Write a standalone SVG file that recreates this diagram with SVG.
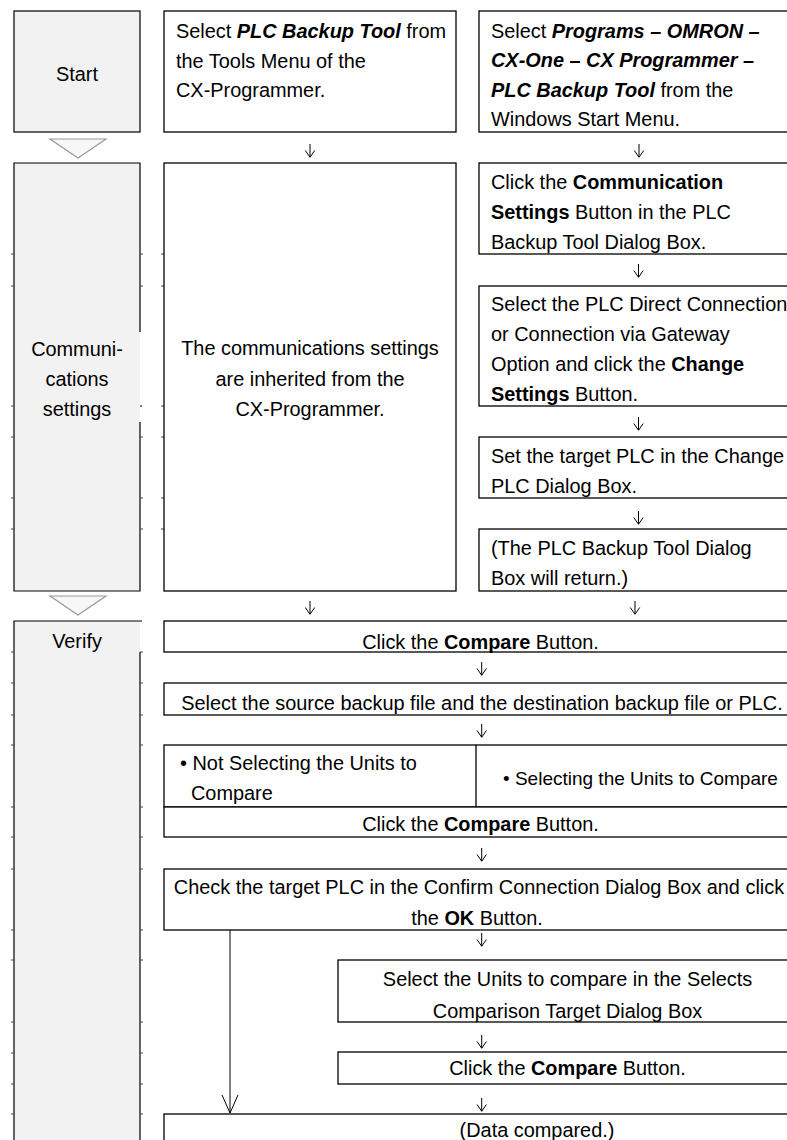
<svg xmlns="http://www.w3.org/2000/svg" width="787" height="1140" viewBox="0 0 787 1140">
<defs>
<style>
text{font-family:"Liberation Sans",Arial,sans-serif;font-size:19.9px;fill:#000}
.c{text-anchor:middle}
.b{font-weight:bold}
.bi{font-weight:bold;font-style:italic}
.sm{font-size:19px}
.lblfill{fill:#f2f2f2;stroke:none}
.lbl{fill:#f2f2f2;stroke:#000;stroke-width:1.2}
.edge{fill:none;stroke:#000;stroke-width:1.2}
.box{fill:#fff;stroke:#000;stroke-width:1.3}
.tri{fill:#f7f7f7;stroke:#9a9a9a;stroke-width:1.2}
.arr{fill:none;stroke:#000;stroke-width:1}
.tick{fill:none;stroke:#444;stroke-width:1}
</style>
</defs>
<rect width="787" height="1140" fill="#fff"/>

<g id="label-start">
<rect class="lbl" x="14" y="11" width="126" height="121"/>
<text class="c" x="77" y="81">Start</text>
</g>
<polygon id="phase-arrow-1" class="tri" points="50,139 106,139 78,158"/>
<g id="label-comm">
<rect class="lblfill" x="14" y="163" width="126" height="428"/>
<path class="edge" d="M140,332 V163 H14 V591 H140 V422 M140,406 h2"/>
<text class="c" x="77" y="356">Communi-</text>
<text class="c" x="77" y="386">cations</text>
<text class="c" x="77" y="416">settings</text>
</g>
<polygon id="phase-arrow-2" class="tri" points="50,596 106,596 78,615"/>
<g id="label-verify">
<rect class="lblfill" x="14" y="621" width="126" height="530"/>
<path class="edge" d="M140,652 V1150 M142,621 H14 V1150"/>
<text class="c" x="77" y="648">Verify</text>
</g>

<g id="ticks">
<path class="tick" d="M11,254h3M140,254h3M161,254h3 M11,286h3M140,286h3M161,286h3 M11,406h3M161,406h3 M11,437h3M140,437h3M161,437h3 M11,498h3M140,498h3M161,498h3 M11,529h3M140,529h3M161,529h3 M11,652h3M140,652h3 M11,683h3M140,683h3 M11,715h3M140,715h3 M11,745h3M140,745h3 M11,807h3M140,807h3 M11,837h3M140,837h3 M11,869h3M140,869h3 M11,930h3M140,930h3 M11,960h3M140,960h3 M11,1022h3M140,1022h3 M11,1053h3M140,1053h3 M11,1084h3M140,1084h3 M11,1114h3M140,1114h3"/>
</g>

<g id="node-cx-menu">
<rect class="box" x="164" y="11" width="292" height="121"/>
<text x="176" y="38">Select <tspan class="bi">PLC Backup Tool</tspan> from</text>
<text x="176" y="67.5">the Tools Menu of the</text>
<text x="176" y="97">CX-Programmer.</text>
</g>
<g id="node-start-menu">
<rect class="box" x="479" y="11" width="330" height="121"/>
<text x="491" y="37.5">Select <tspan class="bi">Programs – OMRON –</tspan></text>
<text x="491" y="67" class="bi">CX-One – CX Programmer –</text>
<text x="491" y="96.5"><tspan class="bi">PLC Backup Tool</tspan> from the</text>
<text x="491" y="126">Windows Start Menu.</text>
</g>
<g id="node-inherited">
<rect class="box" x="164" y="163" width="292" height="428"/>
<text class="c" x="310" y="355">The communications settings</text>
<text class="c" x="310" y="385.5">are inherited from the</text>
<text class="c" x="310" y="416">CX-Programmer.</text>
</g>
<g id="node-comm-button">
<rect class="box" x="479" y="163" width="330" height="91"/>
<text x="491" y="189">Click the <tspan class="b">Communication</tspan></text>
<text x="491" y="219"><tspan class="b">Settings</tspan> Button in the PLC</text>
<text x="491" y="249">Backup Tool Dialog Box.</text>
</g>
<g id="node-connection">
<rect class="box" x="479" y="286" width="330" height="120"/>
<text x="491" y="311">Select the PLC Direct Connection</text>
<text x="491" y="341">or Connection via Gateway</text>
<text x="491" y="371">Option and click the <tspan class="b">Change</tspan></text>
<text x="491" y="401"><tspan class="b">Settings</tspan> Button.</text>
</g>
<g id="node-target-plc">
<rect class="box" x="479" y="437" width="330" height="61"/>
<text x="491" y="463">Set the target PLC in the Change</text>
<text x="491" y="493">PLC Dialog Box.</text>
</g>
<g id="node-return">
<rect class="box" x="479" y="529" width="330" height="62"/>
<text x="491" y="555">(The PLC Backup Tool Dialog</text>
<text x="491" y="585">Box will return.)</text>
</g>

<g id="node-compare-1">
<rect class="box" x="164" y="621" width="645" height="31"/>
<text class="c" x="480.5" y="648.5">Click the <tspan class="b">Compare</tspan> Button.</text>
</g>
<g id="node-select-source">
<rect class="box" x="164" y="683" width="645" height="32"/>
<text class="c" x="482" y="709.5">Select the source backup file and the destination backup file or PLC.</text>
</g>
<g id="node-options">
<rect class="box" x="164" y="745" width="645" height="62"/>
<line class="box" x1="476" y1="745" x2="476" y2="807"/>
<text x="180" y="770">• Not Selecting the Units to</text>
<text x="191" y="800">Compare</text>
<text class="sm" x="503" y="785">• Selecting the Units to Compare</text>
</g>
<g id="node-compare-2">
<rect class="box" x="164" y="807" width="645" height="30"/>
<text class="c" x="480.5" y="831">Click the <tspan class="b">Compare</tspan> Button.</text>
</g>
<g id="node-confirm">
<rect class="box" x="164" y="869" width="645" height="61"/>
<text class="c" x="479" y="894">Check the target PLC in the Confirm Connection Dialog Box and click</text>
<text class="c" x="477" y="925">the <tspan class="b">OK</tspan> Button.</text>
</g>
<g id="node-select-units">
<rect class="box" x="338" y="960" width="471" height="62"/>
<text class="c" x="567.5" y="986">Select the Units to compare in the Selects</text>
<text class="c" x="567.5" y="1017.5">Comparison Target Dialog Box</text>
</g>
<g id="node-compare-3">
<rect class="box" x="338" y="1052" width="471" height="32"/>
<text class="c" x="567.5" y="1075">Click the <tspan class="b">Compare</tspan> Button.</text>
</g>
<g id="node-data-compared">
<rect class="box" x="164" y="1114" width="645" height="40"/>
<text class="c" x="537" y="1137">(Data compared.)</text>
</g>

<g id="connectors">
<path class="arr" d="M310,144V157M305.3,150.5L310,157.3L314.7,150.5"/>
<path class="arr" d="M639,144V157M634.3,150.5L639,157.3L643.7,150.5"/>
<path class="arr" d="M638.5,264V277M633.8,270.5L638.5,277.3L643.2,270.5"/>
<path class="arr" d="M638.5,417V430M633.8,423.5L638.5,430.3L643.2,423.5"/>
<path class="arr" d="M638.5,511V524M633.8,517.5L638.5,524.3L643.2,517.5"/>
<path class="arr" d="M310,601V614M305.3,607.5L310,614.3L314.7,607.5"/>
<path class="arr" d="M635,601V614M630.3,607.5L635,614.3L639.7,607.5"/>
<path class="arr" d="M481.7,662V675M477,668.5L481.7,675.3L486.4,668.5"/>
<path class="arr" d="M481.7,724V737M477,730.5L481.7,737.3L486.4,730.5"/>
<path class="arr" d="M481.7,848V861M477,854.5L481.7,861.3L486.4,854.5"/>
<path class="arr" d="M481.7,933V946M477,939.5L481.7,946.3L486.4,939.5"/>
<path class="arr" d="M481.7,1035V1048M477,1041.5L481.7,1048.3L486.4,1041.5"/>
<path class="arr" d="M481.7,1098V1111M477,1104.5L481.7,1111.3L486.4,1104.5"/>
<path class="arr" d="M230,930V1113M222,1095L230,1113L238,1095"/>
</g>
</svg>
